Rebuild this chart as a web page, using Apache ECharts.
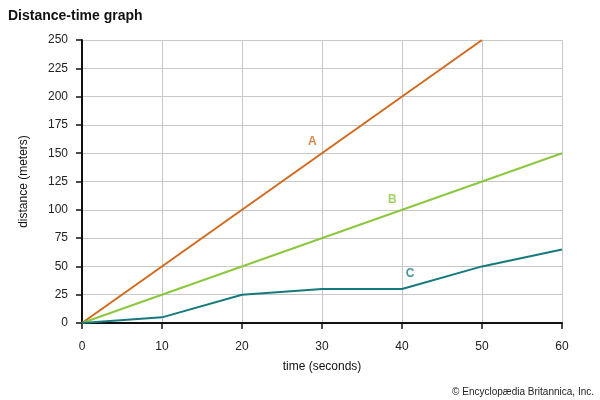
<!DOCTYPE html>
<html><head><meta charset="utf-8">
<script src="https://cdn.jsdelivr.net/npm/echarts@6/dist/echarts.min.js"></script>
<style>html,body{margin:0;padding:0;background:#fff}#c{width:600px;height:400px}</style>
</head><body><div id="c"></div>
<script>
const timeTicks = [0, 10, 20, 30, 40, 50, 60];
const seriesA = [[0, 0], [50, 250]];
const seriesB = [[0, 0], [60, 150]];
const seriesC = [[0, 0], [10, 5], [20, 25], [30, 30], [40, 30], [50, 50], [60, 65]];
const labelNames = ['A', 'B', 'C'];
const labelAnchors = [[28.8, 160], [38.8, 109], [41, 44]];
const colors = ['#d2691e', '#8dc63f', '#167a7c'];

const font = 'Liberation Sans, Arial, Helvetica, sans-serif';
const chart = echarts.init(document.getElementById('c'), null, {renderer: 'canvas'});
chart.setOption({
  animation: false,
  title: {text: 'Distance-time graph', left: 3, top: 4,
    textStyle: {fontFamily: font, fontSize: 14, fontWeight: 'bold', color: '#111'}},
  grid: {left: 82, right: 38, top: 40, bottom: 77},
  xAxis: {type: 'value', min: 0, max: 60, interval: 10,
    name: 'time (seconds)', nameLocation: 'middle', nameGap: 38,
    nameTextStyle: {fontFamily: font, fontSize: 12, color: '#111'},
    axisLine: {lineStyle: {color: '#111', width: 2}},
    axisTick: {show: true, length: 6, lineStyle: {color: '#111', width: 1.5}},
    axisLabel: {fontFamily: font, fontSize: 12, color: '#222', margin: 18},
    splitLine: {show: true, lineStyle: {color: '#c8c8c8', width: 1}}},
  yAxis: {type: 'value', min: 0, max: 250, interval: 25,
    name: 'distance (meters)', nameLocation: 'middle', nameGap: 52, nameRotate: 90,
    nameTextStyle: {fontFamily: font, fontSize: 12, color: '#111'},
    axisLine: {show: true, lineStyle: {color: '#111', width: 2}},
    axisTick: {show: true, length: 6, lineStyle: {color: '#111', width: 1.5}},
    axisLabel: {fontFamily: font, fontSize: 12, color: '#222', margin: 14},
    splitLine: {show: true, lineStyle: {color: '#c8c8c8', width: 1}}},
  series: [
    {type: 'line', data: seriesA, symbol: 'none', lineStyle: {color: colors[0], width: 2}, z: 3},
    {type: 'line', data: seriesB, symbol: 'none', lineStyle: {color: colors[1], width: 2}, z: 3},
    {type: 'line', data: seriesC, symbol: 'none', lineStyle: {color: colors[2], width: 2}, z: 3},
    {type: 'scatter', symbolSize: 0, z: 4,
      data: labelAnchors.map((p, i) => ({value: p, name: labelNames[i],
        label: {show: true, position: 'inside', formatter: labelNames[i],
          color: colors[i], fontFamily: font, fontSize: 12, fontWeight: 'bold'}}))}
  ],
  graphic: [{type: 'text', right: 6, bottom: 3,
    style: {text: '© Encyclopædia Britannica, Inc.', fontFamily: font, fontSize: 10, fill: '#222'}}]
});
</script></body></html>
